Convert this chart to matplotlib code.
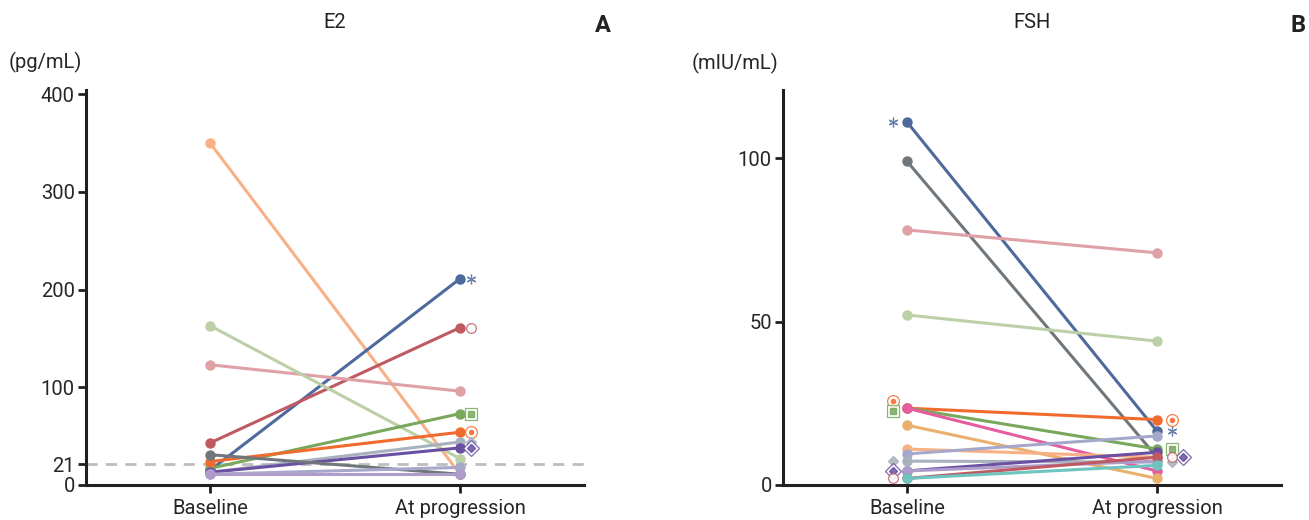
import matplotlib
matplotlib.use('Agg')
import matplotlib.pyplot as plt
import matplotlib.transforms as mt

plt.rcParams['font.family'] = ['Roboto', 'DejaVu Sans']

# categories
time_points = ['Baseline', 'At progression']

# E2 (pg/mL): baseline, progression per patient
e2_colors = ['#F8B187', '#4E6A9C', '#BF5A62', '#DFA0A6', '#BCD0A8', '#79A85C',
             '#F26B2E', '#A8B2BE', '#6A50A2', '#6F767C', '#A6A8CB', '#B09CCB']
e2_baseline = [350, 15, 43, 123, 163, 17, 24, 13, 13, 31, 11, 11]
e2_progress = [11, 211, 161, 96, 27, 73, 54, 44, 38, 11, 18, 11]
e2_marks = [None, 'star', 'ring', None, None, 'square', 'dot', 'diamond',
            'ddot', None, None, None]
e2_cutoff = 21

# FSH (mIU/mL)
fsh_colors = ['#4E6A9C', '#6F767C', '#DFA0A6', '#BCD0A8', '#F26B2E', '#79A85C',
              '#E65C9E', '#E9B06E', '#F8B187', '#A6A8CB', '#A8B2BE', '#6A50A2',
              '#B09CCB', '#BF5A62', '#6EC4BF']
fsh_baseline = [111, 99, 78, 52, 23.5, 23.5, 23.5, 18.3, 11, 9.5, 7.3, 4.3, 4.3, 2, 2]
fsh_progress = [16.5, 8.5, 71, 44, 20, 11, 4.3, 2, 8.5, 15, 7, 10, 7.3, 8.5, 6]
fsh_marks = ['star', None, None, None, 'dot', 'square', None, None, None, None,
             'diamond', 'ddot', None, 'ring', None]

# pixel nudges for side symbols that would collide (style only)
fsh_base_nudge = {4: 7, 5: -3}
fsh_prog_nudge = {11: -5}
fsh_prog_xshift = {11: 11}

W, H = 1309, 520
fig = plt.figure(figsize=(W / 100, H / 100), dpi=100)

AX_COLOR = '#231F20'


def side_symbol(ax, x, y, kind, color, dx_px=0, dy_px=0):
    tr = ax.transData + mt.ScaledTranslation(dx_px / 100, dy_px / 100, fig.dpi_scale_trans)
    kw = dict(transform=tr, clip_on=False, zorder=6, linestyle='none', alpha=0.85)
    if kind == 'star':
        ax.plot([x], [y], marker=(6, 2, 0), markersize=7, markeredgewidth=0.9,
                color=color, **kw)
    elif kind == 'ring':
        ax.plot([x], [y], marker='o', markersize=7, mfc='white', mec=color,
                mew=0.9, **kw)
    elif kind == 'square':
        ax.plot([x], [y], marker='s', markersize=8, mfc='white', mec=color,
                mew=0.9, **kw)
        ax.plot([x], [y], marker='s', markersize=4, color=color, **kw)
    elif kind == 'dot':
        ax.plot([x], [y], marker='o', markersize=8.5, mfc='white', mec=color,
                mew=0.9, **kw)
        ax.plot([x], [y], marker='o', markersize=3, color=color, **kw)
    elif kind == 'diamond':
        ax.plot([x], [y], marker='D', markersize=5, color=color, **kw)
    elif kind == 'ddot':
        ax.plot([x], [y], marker='D', markersize=8, mfc='white', mec=color,
                mew=0.9, **kw)
        ax.plot([x], [y], marker='D', markersize=4, color=color, **kw)


def style_axes(ax, ymax, yticks):
    ax.set_xlim(-0.496, 1.496)
    ax.set_ylim(0, ymax)
    for s in ['top', 'right']:
        ax.spines[s].set_visible(False)
    for s in ['left', 'bottom']:
        ax.spines[s].set_linewidth(2.2)
        ax.spines[s].set_color(AX_COLOR)
    ax.set_xticks([0, 1])
    ax.set_xticklabels(time_points)
    ax.set_yticks(yticks)
    ax.tick_params(axis='both', direction='out', length=6, width=2,
                   color=AX_COLOR, labelsize=14.5, labelcolor='#262626', pad=2)
    ax.tick_params(axis='x', pad=4)


x0, x1 = 0, 1
bottom = (H - 485) / H
height = 395 / H
width = 498 / W

# ---- E2 panel
ax1 = fig.add_axes([86 / W, bottom, width, height])
ax1.axhline(e2_cutoff, color='#BDBDBD', linestyle=(0, (4, 3)), linewidth=2, zorder=1)
for c, b, p in zip(e2_colors, e2_baseline, e2_progress):
    ax1.plot([x0, x1], [b, p], color=c, linewidth=2.2, marker='o', markersize=6.5,
             clip_on=False, zorder=3)
for c, p, m in zip(e2_colors, e2_progress, e2_marks):
    if m:
        side_symbol(ax1, x1, p, m, c, dx_px=11)
style_axes(ax1, 400 * 395 / 391, [0, 21, 100, 200, 300, 400])

# ---- FSH panel
ax2 = fig.add_axes([783 / W, bottom, width, height])
for c, b, p in zip(fsh_colors, fsh_baseline, fsh_progress):
    ax2.plot([x0, x1], [b, p], color=c, linewidth=2.2, marker='o', markersize=6.5,
             clip_on=False, zorder=3)
for i, (c, b, p, m) in enumerate(zip(fsh_colors, fsh_baseline, fsh_progress, fsh_marks)):
    if m:
        side_symbol(ax2, x0, b, m, c, dx_px=-14, dy_px=fsh_base_nudge.get(i, 0))
        side_symbol(ax2, x1, p, m, c, dx_px=15 + fsh_prog_xshift.get(i, 0),
                    dy_px=fsh_prog_nudge.get(i, 0))
style_axes(ax2, 395 / 3.27, [0, 50, 100])

# titles, units, panel letters
fig.text(335 / W, 1 - 22 / H, 'E2', ha='center', va='center', fontsize=14.5, color='#222222')
fig.text(1032 / W, 1 - 22 / H, 'FSH', ha='center', va='center', fontsize=14.5, color='#222222')
fig.text(45 / W, 1 - 62 / H, '(pg/mL)', ha='center', va='center', fontsize=14.5, color='#262626')
fig.text(735 / W, 1 - 63 / H, '(mIU/mL)', ha='center', va='center', fontsize=14.5, color='#262626')
fig.text(603 / W, 1 - 25 / H, 'A', ha='center', va='center', fontsize=17,
         fontweight='bold', color='#222222')
fig.text(1298 / W, 1 - 25 / H, 'B', ha='center', va='center', fontsize=17,
         fontweight='bold', color='#222222')

fig.savefig('out.png', dpi=100)
